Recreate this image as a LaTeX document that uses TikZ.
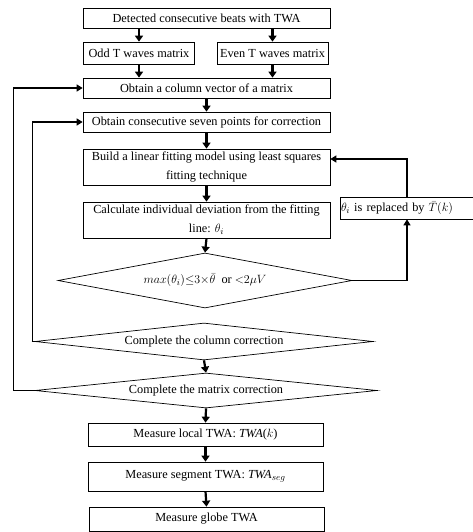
\documentclass[tikz,border=0pt]{standalone}
\usepackage{fontspec}
\setmainfont{Liberation Serif}
\usetikzlibrary{shapes.geometric,arrows.meta}
\begin{document}
\begin{tikzpicture}[x=1pt,y=-1pt,
  font=\fontsize{12.3}{19}\selectfont,
  box/.style={draw,line width=0.7pt,inner sep=0pt,align=center},
  dia/.style={draw,line width=0.7pt,shape=diamond,inner sep=0pt,aspect=8},
  arr/.style={line width=2.2pt,-{Triangle[length=6pt,width=8pt]}},
  back/.style={line width=1.4pt,-{Triangle[length=6pt,width=7pt]}}]
\useasboundingbox (0,0) rectangle (472,532);
\node[box,minimum width=247pt,minimum height=20pt] (b1) at (206.5,18) {Detected consecutive beats with TWA};
\node[box,minimum width=111pt,minimum height=22pt] (odd) at (139,53) {Odd T waves matrix};
\node[box,minimum width=111pt,minimum height=22pt] (even) at (272.5,53) {Even T waves matrix};
\node[box,minimum width=247pt,minimum height=20pt] (col) at (206.5,88) {Obtain a column vector of a matrix};
\node[box,minimum width=247pt,minimum height=20pt] (seven) at (206.5,122) {Obtain consecutive seven points for correction};
\node[box,minimum width=247pt,minimum height=36pt] (build) at (206.5,167) {Build a linear fitting model using least squares\\fitting technique};
\node[box,minimum width=247pt,minimum height=36pt] (calc) at (206.5,220) {Calculate individual deviation from the fitting\\line: $\theta_i$};
\node[box,minimum width=134pt,minimum height=22pt,text width=132pt,align=left] (theta) at (407,208) {$\theta_i$ is replaced by $\bar{T}(k)$};
\node[dia,minimum width=294pt,minimum height=55pt] (dec) at (205,280.5) {$max(\theta_i){\leq}3{\times}\bar{\theta}$\ \ or ${<}2\mu V$};
\node[dia,minimum width=338pt,minimum height=37pt] (colc) at (204,341.5) {Complete the column correction};
\node[dia,minimum width=342pt,minimum height=35pt] (matc) at (206,390.5) {Complete the matrix correction};
\node[box,minimum width=235pt,minimum height=23pt] (local) at (205.5,434.5) {Measure local TWA: \textit{TWA}($k$)};
\node[box,minimum width=235pt,minimum height=29pt] (seg) at (205.5,476.5) {Measure segment TWA: \textit{TWA}$_{seg}$};
\node[box,minimum width=235pt,minimum height=24pt] (globe) at (206.5,519) {Measure globe TWA};
\draw[arr] (odd.north |- b1.south) -- (odd.north);
\draw[arr] (even.north |- b1.south) -- (even.north);
\draw[arr] (odd.south) -- (odd.south |- col.north);
\draw[arr] (even.south) -- (even.south |- col.north);
\draw[arr] (col.south) -- (seven.north);
\draw[arr] (seven.south) -- (build.north);
\draw[arr] (build.south) -- (calc.north);
\draw[arr] (calc.south) -- (dec.north);
\draw[arr] (colc.south) -- (matc.north);
\draw[arr] (matc.south) -- (local.north);
\draw[arr] (local.south) -- (seg.north);
\draw[arr] (seg.south) -- (globe.north);
\draw[back] (dec.east) -| (theta.south);
\draw[back] (theta.north) |- ([yshift=8pt]build.east);
\draw[back] (colc.west) -- ++(-2,0) |- (seven.west);
\draw[back] (matc.west) -- ++(-21,0) |- (col.west);
\end{tikzpicture}
\end{document}
